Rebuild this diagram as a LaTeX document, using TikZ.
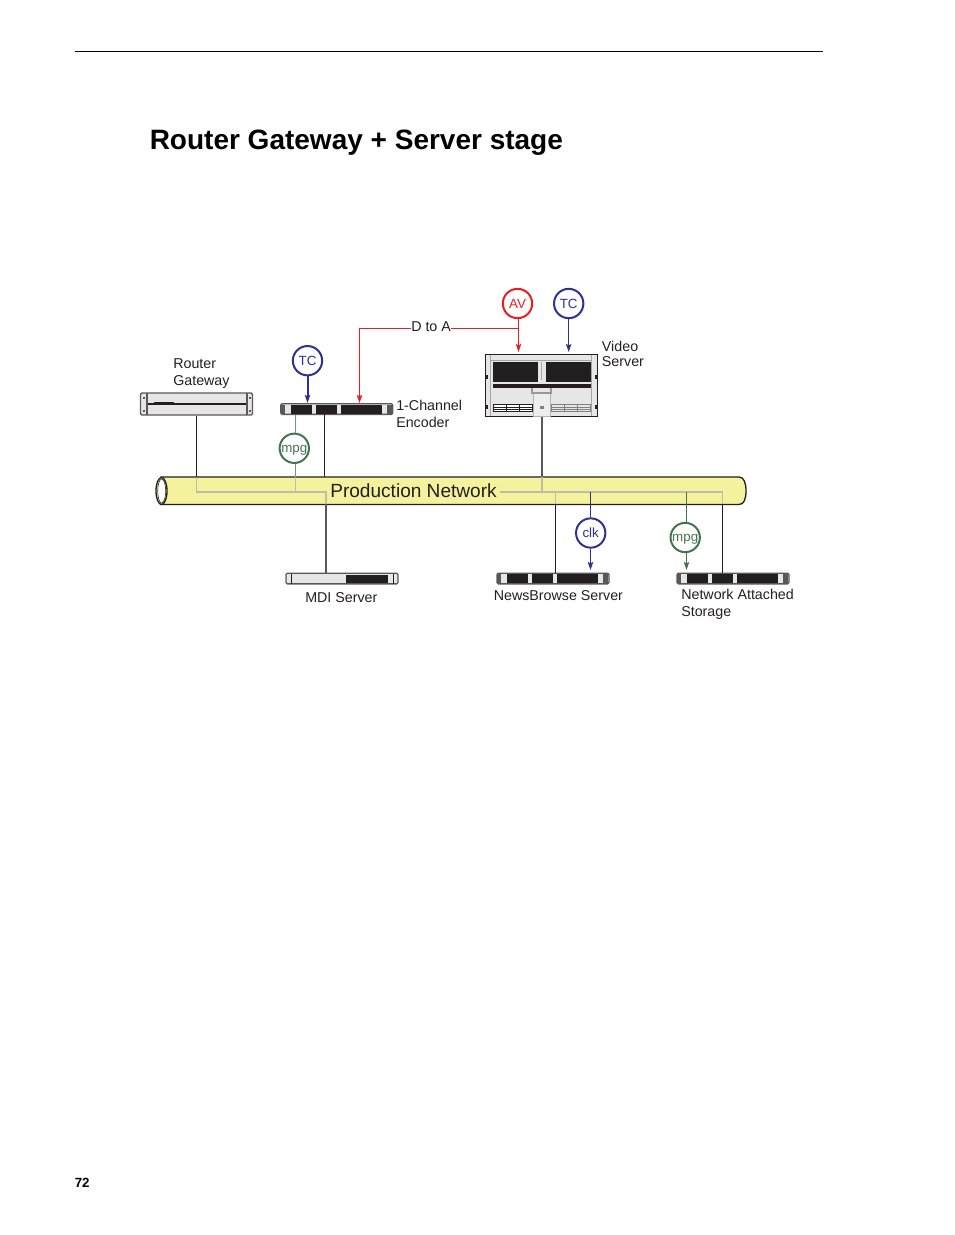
\documentclass[tikz,border=0pt]{standalone}
\usepackage{fontspec}
\setmainfont{Liberation Sans}
\usetikzlibrary{arrows.meta}
\definecolor{ink}{HTML}{231F20}
\definecolor{tcblue}{HTML}{2E3192}
\definecolor{avred}{HTML}{ED1C24}
\definecolor{mpggreen}{HTML}{44744F}
\definecolor{tubefill}{HTML}{F5F29E}
\definecolor{bone}{HTML}{BDBDA8}
\definecolor{panel}{HTML}{E6E6E6}
\tikzstyle{lbl}=[inner sep=0pt,text=ink,align=left,font=\fontsize{10.7}{12.75}\selectfont]
\tikzstyle{badge}=[circle,draw,fill=white,line width=1.5pt,minimum size=22pt,inner sep=0pt,font=\fontsize{10}{12}\selectfont]
\tikzstyle{unit}=[draw=ink!75,rounded corners=1pt,fill=panel,line width=1pt,minimum width=84pt,inner sep=0pt]
\tikzstyle{arr}=[-{Stealth[length=6pt,width=4pt,inset=1pt]}]
\tikzstyle{wire}=[ink,line width=.9pt]
\tikzstyle{inner}=[bone,line width=.9pt]
\begin{document}
\begin{tikzpicture}[x=.75pt,y=-.75pt]
\useasboundingbox (0,0) rectangle (954,1235);
\draw[black,line width=.7pt] (75,51.5) -- (823,51.5);
\node[anchor=base west,inner sep=0pt,text=black,font=\fontsize{21}{25}\selectfont\bfseries] (title) at (149.5,149) {Router Gateway + Server stage};
\node[anchor=base west,inner sep=0pt,text=black,font=\fontsize{10}{12}\selectfont\bfseries] (page) at (74.5,1187) {72};
\draw[ink,line width=1pt,fill=tubefill] (161,477) -- (739,477) .. controls (744,477) and (746,483) .. (746,491) .. controls (746,499) and (744,504.5) .. (739,504.5) -- (161,504.5) -- cycle;
\draw[ink,line width=1pt,fill=tubefill] (161.5,491) ellipse (5.5 and 13.5);
\draw[ink,line width=.4pt,fill=white] (161.7,491) ellipse (4 and 12);
\coordinate (j1) at (196.5,492);
\coordinate (j2) at (295.5,492);
\coordinate (j3) at (326,492);
\coordinate (j4) at (542,492);
\coordinate (j5) at (555.5,492);
\coordinate (j6) at (590.5,492);
\coordinate (j7) at (686.5,492);
\coordinate (j8) at (722.5,492);
\draw[inner] (196.5,477) -- (j1) -- (j8) -- (722.5,504);
\draw[inner] (295.5,477) -- (j2);
\draw[inner] (j3) -- (326,504);
\draw[inner] (542,477) -- (j4);
\draw[inner] (j5) -- (555.5,504);
\node[inner sep=0pt,fill=tubefill,minimum height=12pt,text=ink,font=\fontsize{14.3}{17}\selectfont,minimum width=130pt] (net) at (413.5,491) {Production Network};
\node[unit,minimum height=16.5pt] (gate) at (196.5,404) {};
\fill[ink] (147,403) rectangle (247,405);
\fill[ink] (154,402) rectangle (174,402.8);
\draw[ink!75,line width=.8pt] (147,393) -- (147,415) (247,393) -- (247,415);
\foreach \ny in {398,411} {
\fill[ink!75] (143,\ny-1) rectangle (145,\ny+1);
\fill[ink!75] (249,\ny-1) rectangle (251,\ny+1);
}
\node[unit,minimum height=8pt] (enc) at (336.8,409) {};
\node[unit,minimum height=8pt] (mdi) at (342,578.5) {};
\node[unit,minimum height=8pt] (news) at (553,578.5) {};
\node[unit,minimum height=8pt] (nas) at (733,578.5) {};
\fill[ink] (346,574.5) rectangle (387.5,583);
\foreach \ox/\oy in {337/409,553/578.5,733/578.5} {
\fill[ink] (\ox-46,\oy-4.5) rectangle (\ox-25,\oy+4.5);
\fill[ink] (\ox-21,\oy-4.5) rectangle (\ox+0,\oy+4.5);
\fill[ink] (\ox+3.5,\oy-4.5) rectangle (\ox+44.5,\oy+4.5);
\fill[ink!75] (\ox-56,\oy-4.5) rectangle (\ox-52,\oy+4.5);
\fill[ink!75] (\ox+50,\oy-4.5) rectangle (\ox+55,\oy+4.5);
}
\foreach \ox in {291,393} \draw[ink,line width=.5pt] (\ox,574) -- (\ox,584);
\node[draw=ink,line width=1pt,fill=panel,minimum width=84pt,minimum height=46.5pt,inner sep=0pt] (vid) at (541.5,385.7) {};
\draw[gray!70,line width=.5pt] (490.7,355) -- (490.7,416) (591.5,355) -- (591.5,416) (490.7,360) -- (591.5,360);
\fill[ink] (493,361.7) rectangle (538,381.7);
\fill[ink] (546,361.7) rectangle (591,381.7);
\fill[ink] (493,384) rectangle (591,388);
\draw[gray!70,line width=.6pt] (541,362) -- (541,380);
\foreach \ny in {377,407} {
\fill[ink] (485,\ny-2) rectangle (488,\ny+2);
\fill[ink] (595,\ny-2) rectangle (598,\ny+2);
}
\draw[gray!60,line width=.6pt,fill=panel!70] (533,393) rectangle (550,416);
\draw[gray!80,line width=.8pt] (532,388) -- (532,393) -- (551,393) -- (551,388);
\fill[gray] (539.5,405.5) rectangle (543.5,408.5);
\draw[ink,line width=.5pt,fill=white] (493,404.5) rectangle (532,411);
\draw[ink,line width=.5pt] (493,407) -- (532,407) (493,409) -- (532,409) (506,404.5) -- (506,411) (519,404.5) -- (519,411);
\draw[gray,line width=.5pt] (551,404.5) rectangle (590,411) (551,407) -- (590,407) (551,409) -- (590,409) (564,404.5) -- (564,411) (577,404.5) -- (577,411);
\node[badge,draw=tcblue,text=tcblue] (tca) at (307.5,360.7) {TC};
\node[badge,draw=avred,text=avred] (av) at (517.5,303.5) {AV};
\node[badge,draw=tcblue,text=tcblue] (tcb) at (568.7,303.5) {TC};
\node[badge,draw=mpggreen,text=mpggreen,text depth=0pt] (mpga) at (294.3,448.3) {\raisebox{-1.2pt}{mpg}};
\node[badge,draw=tcblue,text=tcblue] (clk) at (590.7,533) {clk};
\node[badge,draw=mpggreen,text=mpggreen,text depth=0pt] (mpgb) at (685.2,537.5) {\raisebox{-1.2pt}{mpg}};
\node[lbl,anchor=west] (dtoa) at (411,326.5) {D to A};
\node[lbl,anchor=west] (gatelbl) at (173,373.5) {Router\\Gateway};
\node[lbl,anchor=west] (enclbl) at (396,414) {1-Channel\\Encoder};
\node[lbl,anchor=west,font=\fontsize{10.7}{11.25}\selectfont] (vidlbl) at (601.7,353.5) {Video\\Server};
\node[lbl,anchor=base west] (mdilbl) at (305,602) {MDI Server};
\node[lbl,anchor=base west] (newslbl) at (493.5,600) {NewsBrowse Server};
\node[lbl,anchor=west] (naslbl) at (681,604) {Network Attached\\Storage};
\coordinate (rbend) at (359.5,328.5);
\coordinate (rjoin) at (518.5,328.5);
\draw[tcblue,line width=1.5pt,arr] (tca.south) -- (tca.south |- enc.north);
\draw[avred,line width=.75pt,arr] (dtoa.west |- rbend) -- (rbend) -- (rbend |- enc.north);
\draw[avred,line width=.75pt] (dtoa.east |- rjoin) -- (rjoin);
\draw[avred,line width=.75pt,arr,shorten >=1.5pt] (rjoin |- av.south) -- (rjoin |- vid.north);
\draw[tcblue,line width=.75pt,arr,shorten >=1.5pt] (tcb.south) -- (tcb.south |- vid.north);
\draw[mpggreen!75,line width=.9pt] (j2 |- enc.south) -- (j2 |- mpga.north);
\draw[mpggreen!75,line width=.9pt] (j2 |- mpga.south) -- (295.5,477);
\draw[wire] (j1 |- gate.south) -- (196.5,477);
\draw[wire] (324.5,414) -- (324.5,477);
\draw[ink!75,line width=1pt] (326,504) -- (326,573);
\draw[ink!75,line width=1.2pt] (j4 |- vid.south) -- (542,477);
\draw[wire] (555.5,504) -- (j5 |- news.north);
\draw[wire] (722.5,504) -- (j8 |- nas.north);
\draw[tcblue,line width=.75pt] (j6) -- (j6 |- clk.north);
\draw[tcblue,line width=.75pt,arr] (j6 |- clk.south) -- (590.5,570);
\draw[mpggreen,line width=.75pt] (j7) -- (j7 |- mpgb.north);
\draw[mpggreen,line width=.75pt,arr] (j7 |- mpgb.south) -- (686.5,570);
\end{tikzpicture}
\end{document}
